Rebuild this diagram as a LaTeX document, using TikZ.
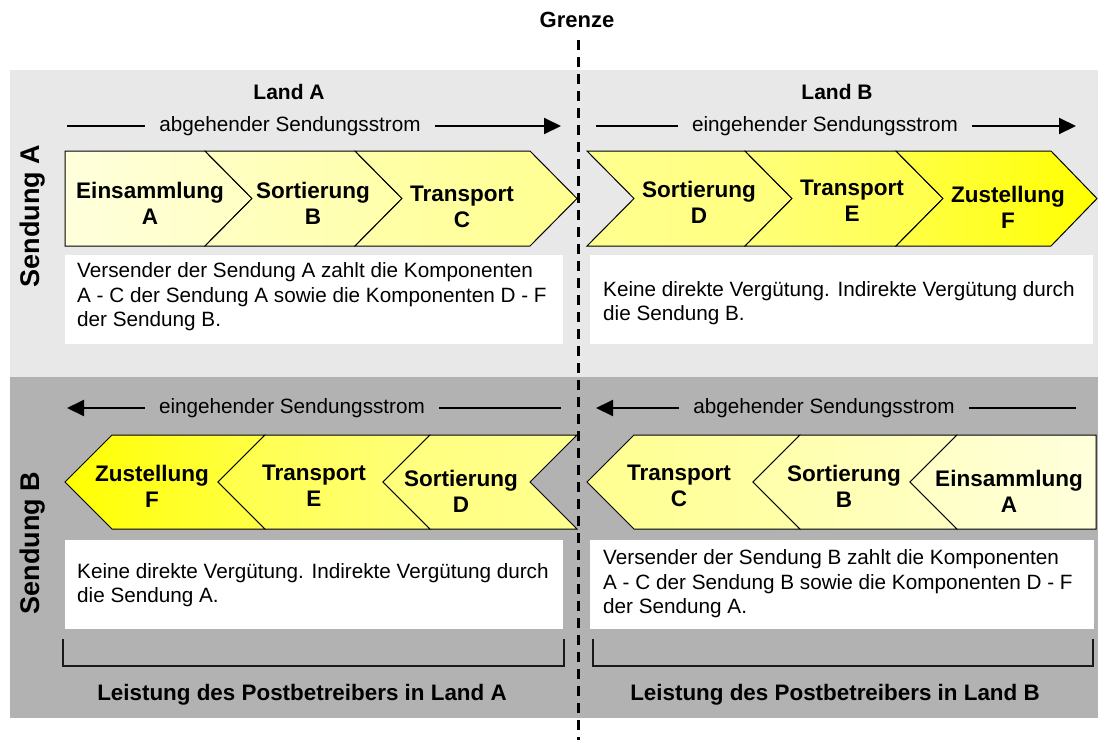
\documentclass[tikz,border=0pt]{standalone}
\usepackage{fontspec}
\setmainfont{Liberation Sans}
\usetikzlibrary{arrows.meta}
\definecolor{panelA}{HTML}{E8E8E8}
\definecolor{panelB}{HTML}{B2B2B2}
\definecolor{y0}{HTML}{FFFFDC}
\definecolor{y1}{HTML}{FFFFC4}
\definecolor{y2}{HTML}{FFFFAA}
\definecolor{y3}{HTML}{FFFF90}
\definecolor{y4}{HTML}{FFFF74}
\definecolor{y5}{HTML}{FFFF48}
\definecolor{y6}{HTML}{FFFF00}
\tikzset{
  chev/.style={draw=black, line width=1pt, line join=miter},
  lbl/.style={font=\fontsize{22.5}{26}\selectfont\bfseries, align=center, inner sep=0pt},
  head/.style={font=\fontsize{21}{24}\selectfont\bfseries, inner sep=0pt},
  foot/.style={font=\fontsize{22.4}{26}\selectfont\bfseries, inner sep=0pt},
  body/.style={font=\fontsize{20.7}{24.5}\selectfont, align=left, inner sep=0pt, anchor=west},
  flow/.style={font=\fontsize{20.7}{24.5}\selectfont, inner xsep=14pt, inner ysep=0pt},
  flowline/.style={line width=2pt, draw=black},
  flowarrow/.style={flowline, -{Triangle[length=17pt, width=16pt]}},
  wbox/.style={fill=white, draw=none},
  brack/.style={line width=1.6pt, draw=black!90},
  side/.style={font=\fontsize{27}{30}\selectfont\bfseries, rotate=90, inner sep=0pt},
}
\begin{document}
\begin{tikzpicture}[x=1pt,y=-1pt]
\useasboundingbox (0,0) rectangle (1098,740);
% panels
\fill[panelA] (10,70) rectangle (1098,377);
\fill[panelB] (10,377) rectangle (1098,718);

% headings
\node[head, font=\fontsize{22}{26}\selectfont\bfseries] (grenze) at (577,20) {Grenze};
\node[head] (landA) at (289,92) {Land A};
\node[head] (landB) at (837,92) {Land B};
\node[side] (sendA) at (33,216) {Sendung A};
\node[side] (sendB) at (33,543) {Sendung B};

% flow arrows top
\coordinate (f1s) at (67,126);
\coordinate (f1e) at (561,126);
\node[flow] (f1) at (290,126) {abgehender Sendungsstrom};
\draw[flowline] (f1s) -- (f1.west);
\draw[flowarrow] (f1.east) -- (f1e);
\coordinate (f2s) at (596,126);
\coordinate (f2e) at (1076,126);
\node[flow] (f2) at (825,126) {eingehender Sendungsstrom};
\draw[flowline] (f2s) -- (f2.west);
\draw[flowarrow] (f2.east) -- (f2e);
% flow arrows bottom
\coordinate (f3s) at (67,408);
\coordinate (f3e) at (561,408);
\node[flow] (f3) at (292,408) {eingehender Sendungsstrom};
\draw[flowarrow] (f3.west) -- (f3s);
\draw[flowline] (f3.east) -- (f3e);
\coordinate (f4s) at (596,408);
\coordinate (f4e) at (1076,408);
\node[flow] (f4) at (824,408) {abgehender Sendungsstrom};
\draw[flowarrow] (f4.west) -- (f4s);
\draw[flowline] (f4.east) -- (f4e);

% top chevrons (y 151..246, mid 198.5)
\draw[chev, left color=y0, right color=y1] (65,151) -- (205,151) -- (252,198.5) -- (205,246) -- (65,246) -- cycle;
\draw[chev, left color=y1, right color=y2] (205,151) -- (355,151) -- (402,198.5) -- (355,246) -- (205,246) -- (252,198.5) -- cycle;
\draw[chev, left color=y2, right color=y3] (355,151) -- (530,151) -- (577,198.5) -- (530,246) -- (355,246) -- (402,198.5) -- cycle;
\draw[chev, left color=y3, right color=y4!70!y3] (587,151) -- (745,151) -- (792,198.5) -- (745,246) -- (587,246) -- (634,198.5) -- cycle;
\draw[chev, left color=y4!70!y3, right color=y5] (745,151) -- (896,151) -- (943,198.5) -- (896,246) -- (745,246) -- (792,198.5) -- cycle;
\draw[chev, left color=y5, right color=y6] (896,151) -- (1051,151) -- (1097,198.5) -- (1051,246) -- (896,246) -- (943,198.5) -- cycle;

\node[lbl] (tA) at (150,203) {Einsammlung\\A};
\node[lbl] (tB) at (313,203) {Sortierung\\B};
\node[lbl] (tC) at (462,207) {Transport\\C};
\node[lbl] (tD) at (699,202) {Sortierung\\D};
\node[lbl] (tE) at (852,201) {Transport\\E};
\node[lbl] (tF) at (1008,207) {Zustellung\\F};

% bottom chevrons (y 435..529, mid 482)
\draw[chev, left color=y6, right color=y5] (65,482) -- (112,435) -- (265,435) -- (218,482) -- (265,529) -- (112,529) -- cycle;
\draw[chev, left color=y5, right color=y4!70!y3] (218,482) -- (265,435) -- (430,435) -- (383,482) -- (430,529) -- (265,529) -- cycle;
\draw[chev, left color=y4!70!y3, right color=y3] (383,482) -- (430,435) -- (577,435) -- (530,482) -- (577,529) -- (430,529) -- cycle;
\draw[chev, left color=y3, right color=y2] (587,482) -- (634,435) -- (800,435) -- (753,482) -- (800,529) -- (634,529) -- cycle;
\draw[chev, left color=y2, right color=y1] (753,482) -- (800,435) -- (957,435) -- (910,482) -- (957,529) -- (800,529) -- cycle;
\draw[chev, left color=y1, right color=y0] (910,482) -- (957,435) -- (1096,435) -- (1096,529) -- (957,529) -- cycle;

\node[lbl] (bF) at (152,486) {Zustellung\\F};
\node[lbl] (bE) at (314,486) {Transport\\E};
\node[lbl] (bD) at (461,491) {Sortierung\\D};
\node[lbl] (bC) at (679,486) {Transport\\C};
\node[lbl] (bB) at (844,486) {Sortierung\\B};
\node[lbl] (bA) at (1009,491) {Einsammlung\\A};

% white boxes
\fill[wbox] (65,255) rectangle (563,344);
\fill[wbox] (590,255) rectangle (1093,344);
\fill[wbox] (65,540) rectangle (563,629);
\fill[wbox] (590,540) rectangle (1094,629);
\node[body] (xTL) at (77,297) {Versender der Sendung A zahlt die Komponenten\\A - C der Sendung A sowie die Komponenten D - F\\der Sendung B.};
\node[body] (xTR) at (603,303) {Keine direkte Vergütung. Indirekte Vergütung durch\\die Sendung B.};
\node[body] (xBL) at (77,585) {Keine direkte Vergütung. Indirekte Vergütung durch\\die Sendung A.};
\node[body] (xBR) at (603,584) {Versender der Sendung B zahlt die Komponenten\\A - C der Sendung B sowie die Komponenten D - F\\der Sendung A.};

% brackets
\coordinate (b1a) at (63,639); \coordinate (b1b) at (564,639);
\coordinate (b2a) at (593,639); \coordinate (b2b) at (1093,639);
\draw[brack] (b1a) -- ++(0,27) -| (b1b);
\draw[brack] (b2a) -- ++(0,27) -| (b2b);
\node[foot] (lA) at (302,695) {Leistung des Postbetreibers in Land A};
\node[foot] (lB) at (835,695) {Leistung des Postbetreibers in Land B};

% border line
\coordinate (g1) at (578.5,40);
\coordinate (g2) at (578.5,740);
\draw[line width=3pt, dash pattern=on 10pt off 7pt] (g1) -- (g2);
\end{tikzpicture}
\end{document}
